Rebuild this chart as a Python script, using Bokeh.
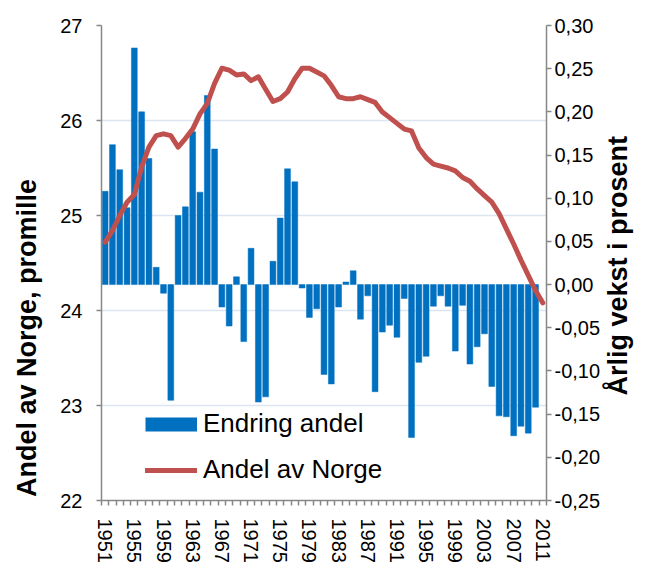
import math
from bokeh.plotting import figure
from bokeh.models import (Range1d, LinearAxis, FixedTicker, CustomJSTickFormatter,
                          Legend, LegendItem)
from bokeh.embed import file_html
from bokeh.resources import INLINE

# ---------------- data ----------------
years = list(range(1951, 2012))
bar_years = list(range(1951, 2011))

# Annual growth (percent), right axis
endring_andel = [
    0.108, 0.162, 0.133, 0.089, 0.274, 0.200, 0.146, 0.020, -0.010, -0.134,
    0.080, 0.090, 0.177, 0.107, 0.219, 0.157, -0.026, -0.048, 0.009, -0.066,
    0.042, -0.136, -0.130, 0.027, 0.077, 0.134, 0.119, -0.004, -0.038, -0.028,
    -0.104, -0.115, -0.026, 0.003, 0.016, -0.040, -0.013, -0.124, -0.055, -0.047,
    -0.061, -0.016, -0.177, -0.090, -0.083, -0.025, -0.013, -0.025, -0.077, -0.024,
    -0.092, -0.072, -0.057, -0.118, -0.152, -0.153, -0.175, -0.164, -0.172, -0.142,
]

# Share of Norway (per mille), left axis
andel_norge = [
    24.72, 24.84, 25.00, 25.14, 25.22, 25.51, 25.72, 25.84, 25.86, 25.84,
    25.72, 25.81, 25.91, 26.07, 26.18, 26.39, 26.55, 26.53, 26.48, 26.49,
    26.42, 26.46, 26.33, 26.20, 26.23, 26.30, 26.44, 26.55, 26.55, 26.51,
    26.47, 26.37, 26.25, 26.23, 26.23, 26.25, 26.22, 26.19, 26.09, 26.03,
    25.97, 25.91, 25.89, 25.71, 25.61, 25.54, 25.52, 25.50, 25.47, 25.40,
    25.36, 25.28, 25.21, 25.14, 25.02, 24.86, 24.70, 24.53, 24.37, 24.21,
    24.08,
]

label_years = list(range(1951, 2012, 4))
left_ticks = [22, 23, 24, 25, 26, 27]
grid_ticks = [23, 24, 25, 26, 27]
right_ticks = [-0.25, -0.20, -0.15, -0.10, -0.05, 0.0, 0.05, 0.10, 0.15, 0.20, 0.25, 0.30]

legend_labels = ["Endring andel", "Andel av Norge"]
left_title = "Andel  av Norge, promille"
right_title = "Årlig vekst i prosent"

FONT = "Liberation Sans"
BAR_COLOR = "#0070C0"
LINE_COLOR = "#C0504D"
AXIS_COLOR = "#878787"
GRID_COLOR = "#DCE5F1"
NBSP = "\u00a0"

# ---------------- figure ----------------
p = figure(width=651, height=570, output_backend="svg", toolbar_location=None,
           x_range=Range1d(1950.5, 2011.5), y_range=Range1d(22, 27),
           min_border_left=101, min_border_right=103, min_border_top=25,
           min_border_bottom=70, outline_line_color=None)
p.background_fill_color = "white"
p.border_fill_color = "white"

p.extra_y_ranges = {"pct": Range1d(-0.25, 0.30)}

# grid
p.xgrid.visible = False
p.ygrid.ticker = FixedTicker(ticks=grid_ticks)
p.ygrid.grid_line_color = GRID_COLOR
p.ygrid.grid_line_width = 1.5

# left axis
la = p.yaxis[0]
la.ticker = FixedTicker(ticks=left_ticks)
la.axis_line_color = AXIS_COLOR
la.axis_line_width = 1.5
la.major_tick_line_color = AXIS_COLOR
la.major_tick_line_width = 1.5
la.major_tick_out = 5
la.major_tick_in = 0
la.minor_tick_line_color = None
la.major_label_text_font = FONT
la.major_label_text_font_size = "20px"
la.major_label_text_color = "black"
la.major_label_standoff = 14
# title sits in the lower part of the axis, as in the source chart
la.axis_label = left_title + NBSP * 19
la.axis_label_text_font = FONT
la.axis_label_text_font_style = "bold"
la.axis_label_text_font_size = "27px"
la.axis_label_text_color = "black"
la.axis_label_standoff = 15

# right axis
ra = LinearAxis(y_range_name="pct", ticker=FixedTicker(ticks=right_ticks),
                formatter=CustomJSTickFormatter(code="return tick.toFixed(2).replace('.', ',');"))
ra.axis_line_color = AXIS_COLOR
ra.axis_line_width = 1.5
ra.major_tick_line_color = AXIS_COLOR
ra.major_tick_line_width = 1.5
ra.major_tick_out = 5
ra.major_tick_in = 0
ra.minor_tick_line_color = None
ra.major_label_text_font = FONT
ra.major_label_text_font_size = "20px"
ra.major_label_text_color = "black"
ra.major_label_standoff = 3
ra.axis_label = NBSP * 14 + right_title
ra.axis_label_text_font = FONT
ra.axis_label_text_font_style = "bold"
ra.axis_label_text_font_size = "27px"
ra.axis_label_text_color = "black"
ra.axis_label_standoff = 15
ra.axis_label_orientation = math.pi / 2
ra.axis_label_align = "start"
p.add_layout(ra, "right")

# bottom axis
xa = p.xaxis[0]
xa.ticker = FixedTicker(ticks=label_years, minor_ticks=[y - 0.5 for y in years] + [years[-1] + 0.5])
xa.axis_line_color = AXIS_COLOR
xa.axis_line_width = 1.5
xa.major_tick_line_color = None
xa.major_tick_out = 5
xa.major_tick_in = 0
xa.minor_tick_line_color = AXIS_COLOR
xa.minor_tick_line_width = 1.5
xa.minor_tick_out = 5
xa.minor_tick_in = 0
xa.major_label_orientation = -math.pi / 2
xa.major_label_text_font = FONT
xa.major_label_text_font_size = "20px"
xa.major_label_text_color = "black"
xa.major_label_standoff = 13

# ---------------- glyphs ----------------
p.vbar(x=bar_years, top=endring_andel, bottom=0, width=0.8,
       fill_color=BAR_COLOR, line_color=BAR_COLOR, line_width=0.5, y_range_name="pct")
line_r = p.line(x=years, y=andel_norge, line_width=5, line_color=LINE_COLOR,
                line_join="round", line_cap="round")

# legend-only swatch for the bars (a thick butt-capped line draws a solid block)
swatch = p.line(x=[math.nan], y=[math.nan], line_width=14, line_color=BAR_COLOR,
                line_cap="butt")

legend = Legend(items=[LegendItem(label=legend_labels[0], renderers=[swatch]),
                       LegendItem(label=legend_labels[1], renderers=[line_r])],
                location=(44, 15), glyph_width=52, glyph_height=30, label_height=30,
                spacing=15, padding=0, margin=0, border_line_color=None,
                background_fill_alpha=0, label_text_font=FONT,
                label_text_font_size="26px", label_text_color="black",
                label_standoff=6)
p.add_layout(legend, "center")

open("out.html", "w").write(file_html(p, INLINE))
